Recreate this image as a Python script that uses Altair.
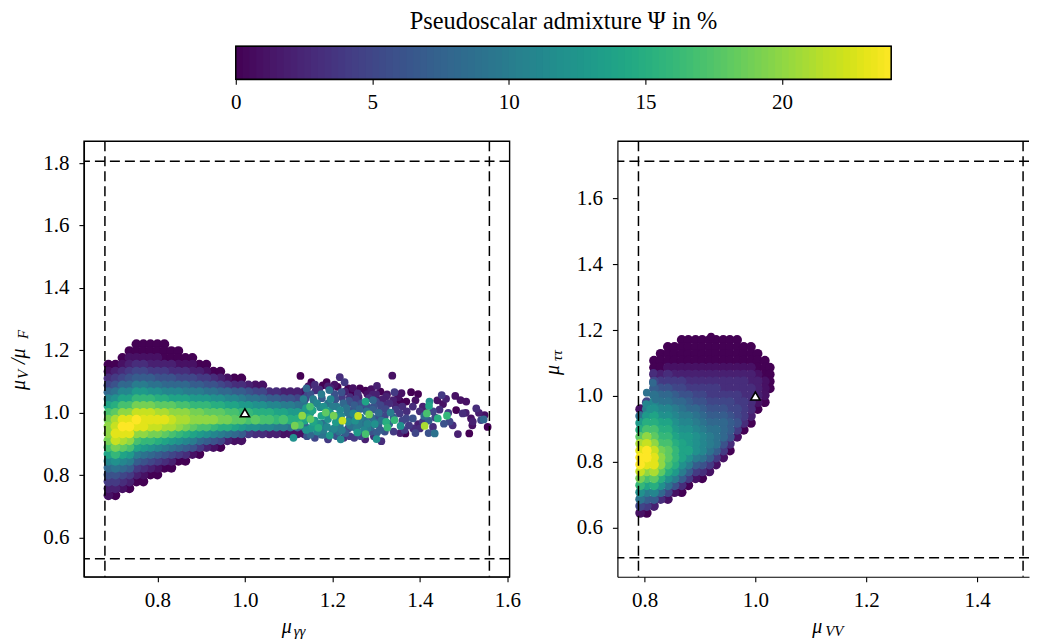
import altair as alt
import numpy as np
import pandas as pd

FONT = "Liberation Serif"

# ---- left panel dense cloud: columns of psi values
L_rows = [1.22,1.198,1.176,1.154,1.132,1.11,1.088,1.066,1.044,1.022,1.0,0.978,0.956,0.934,0.912,0.89,0.868,0.846,0.824,0.802,0.78,0.758,0.736]
L_col_x = [0.688,0.704,0.72,0.736,0.752,0.768,0.784,0.80,0.816,0.832,0.848,0.864,0.88,0.896,0.912,0.928,0.944,0.96,0.976,0.992,1.008,1.024,1.04,1.056,1.072,1.088,1.104,1.12,1.136]
L_col_start = [3,3,2,1,0,0,0,0,0,1,1,2,2,3,3,4,4,5,5,5,6,6,6,7,7,7,7,7,7]
L_col_psi = [
 [0,1,3,5,8,11,14,17,19,20,20,19,17,14,11,8,6,4,2,1],
 [0,2,4,6,9,12,15,18,21,22,23,22,19,16,12,9,6,4,2,0],
 [0,1,3,5,8,11,14,17,20,23,24,23,21,18,14,11,8,5,3,1],
 [0,1,2,4,6,8,11,14,17,20,23,24,23,20,17,13,10,7,4,2,0],
 [0,0,1,3,5,7,10,13,16,19,22,24,23,20,17,14,10,7,4,2,0],
 [0,0,1,3,5,7,10,13,16,19,22,23,23,20,16,13,9,6,3,1,0],
 [0,0,1,2,4,7,9,12,16,19,22,23,22,19,16,12,8,5,2,0],
 [0,0,1,2,4,6,9,12,15,18,21,23,22,19,15,11,7,4,1,0],
 [0,0,0,2,4,6,8,11,15,18,21,23,21,18,14,10,6,3,0],
 [0,0,2,3,6,8,11,14,18,20,22,21,17,13,9,5,2,0],
 [0,0,1,3,5,8,11,14,17,20,21,20,16,12,8,4,0],
 [0,1,3,5,8,10,14,17,20,21,19,15,11,7,3,0],
 [0,1,2,5,7,10,13,16,19,20,18,14,10,6,1],
 [0,2,4,7,10,13,16,19,20,17,13,8,4,0],
 [0,1,4,6,9,13,16,18,20,17,12,7,2],
 [0,3,6,9,12,15,18,20,16,11,6,1],
 [0,2,5,8,12,15,18,19,15,10,5,0],
 [1,4,8,11,14,17,19,15,9,2],
 [0,3,7,11,14,17,18,14,8,1],
 [0,3,7,10,13,16,18,13,7,1],
 [2,6,9,13,16,17,12,4],
 [1,5,9,12,15,18,12,3],
 [1,5,8,12,15,17,11,3],
 [3,7,11,15,17,11,2],
 [3,7,11,14,16,10,2],
 [2,6,10,14,17,10,1],
 [2,6,10,13,15,9,1],
 [2,5,9,13,15,8,1],
 [1,5,9,12,14,8,1],
]

# ---- left panel loose points, sparse tail
S_x = [1.337,1.217,1.127,1.228,1.152,1.187,1.289,1.302,1.263,1.236,1.245,1.342,1.358,1.380,1.396,1.450,1.481,1.493,1.506,1.422,1.453,1.276,1.293,1.221,1.141,1.193,1.175,1.196,1.156,1.134,1.240,1.323,1.354,1.369,1.384,1.407,1.421,1.416,1.441,1.462,1.411,1.434,1.487,1.513,1.367,1.302,1.301,1.312,1.219,1.194,1.111,1.276,1.257,1.326,1.323,1.342,1.356,1.384,1.369,1.354,1.333,1.308,1.284,1.259,1.223,1.203,1.185,1.149,1.131,1.150,1.114,1.126,1.168,1.156,1.179,1.217,1.236,1.270,1.297,1.240,1.247,1.270,1.323,1.308,1.339,1.407,1.396,1.468,1.498,1.517,1.529,1.548,1.555,1.546,1.540,1.521,1.483,1.430,
       1.15,1.165,1.18,1.195,1.21,1.225,1.21,1.235,1.25,1.265,1.28,1.295,1.31,1.33,1.345,1.36,1.15,1.165,1.18,1.2,1.215,1.23,1.245,1.26,1.275,1.29,1.305,1.32,1.34,1.36,1.375,1.385,1.40,1.42,1.435,1.455,1.41,1.43,1.445,1.40,1.15,1.17,1.19,1.205,1.24,1.26,1.28,1.30,1.16,1.205,1.18,1.205,1.15,1.24,1.265,1.29,1.31,1.34,1.355,1.28,
       1.145,1.162,1.178,1.196,1.212,1.229,1.247,1.258,1.276,1.292,1.31,1.325,1.143,1.158,1.176,1.19,1.207,1.222,1.238,1.254,1.268,1.284,1.3,1.316,
       1.14,1.155,1.172,1.188,1.2,1.218,1.232,1.248,1.262,1.278,1.292,1.306,1.322,1.145,1.16,1.175,1.19,1.208,1.22,1.236,1.252,1.265,1.28,1.295,1.312,1.33,
       1.14,1.155,1.17,1.188,1.204,1.222,1.24,1.255,1.272,1.288,1.305,1.32,1.142,1.16,1.175,1.19,1.21,1.226,1.25,1.275,1.295,
       1.35,1.37,1.39,1.415,1.44,1.465,1.475,1.505,1.52,1.535,1.365,1.39,1.42,1.345,1.46]
S_y = [1.119,1.114,1.118,1.098,1.098,1.098,1.076,1.086,1.078,1.078,1.064,1.066,1.063,1.066,1.060,1.057,1.054,1.041,1.036,1.036,1.028,1.036,1.041,1.066,1.078,1.073,1.060,1.044,1.044,1.044,1.032,1.025,1.039,1.036,1.020,1.020,1.022,0.998,0.982,0.991,0.958,0.934,0.932,0.934,0.934,0.937,0.916,0.909,0.915,0.927,0.920,0.932,0.937,0.953,0.971,0.977,0.958,0.982,0.982,0.998,1.001,1.004,0.995,0.990,0.975,0.991,1.001,1.020,0.991,0.980,0.959,0.961,0.952,0.971,0.966,0.961,0.950,0.961,0.964,0.982,1.009,1.014,1.052,1.041,1.041,0.972,0.964,0.972,0.998,0.982,1.014,0.993,0.955,0.979,0.977,0.972,1.009,0.955,
       1.00,1.03,1.02,1.0,1.02,1.03,0.99,1.0,1.025,1.03,1.02,1.02,1.025,1.03,1.02,1.02,0.95,0.94,0.945,0.945,0.94,0.935,0.955,0.965,0.975,0.985,0.985,0.99,0.985,0.975,0.96,0.95,0.95,0.975,0.985,0.965,0.99,1.005,1.01,1.005,1.06,1.075,1.085,1.06,1.05,1.05,1.06,1.06,1.09,1.09,0.93,0.93,0.93,0.925,0.925,0.94,0.945,0.94,0.935,0.95,
       1.085,1.072,1.088,1.079,1.083,1.068,1.079,1.062,1.071,1.058,1.068,1.059,1.057,1.035,1.047,1.03,1.043,1.05,1.038,1.044,1.03,1.047,1.036,1.044,
       1.015,1.008,1.018,1.006,1.021,1.008,1.015,0.998,1.012,1.005,1.01,1.0,1.012,0.985,0.975,0.99,0.98,0.97,0.99,0.972,0.975,0.985,0.965,0.97,0.975,0.965,
       0.945,0.955,0.965,0.955,0.95,0.945,0.96,0.95,0.945,0.955,0.96,0.94,0.925,0.92,0.93,0.915,0.925,0.92,0.92,0.915,0.925,
       1.05,1.005,1.04,1.0,1.04,1.0,0.96,1.0,0.96,1.0,0.945,0.935,0.935,1.01,1.045]
S_p = [1,3,0,4,0,0,1,2,0,0,0,4,1,0,0,4,1,1,1,12,1,14,8,6,8,9,10,11,10,10,5,3,0,0,3,2,14,17,15,16,21,9,2,0,0,7,12,3,11,13,12,17,13,16,15,16,12,6,5,4,10,5,19,22,22,19,18,17,20,18,19,17,15,14,9,10,5,9,12,8,6,4,2,1,2,4,2,5,3,1,3,1,0,8,5,2,0,3,
       13,11,12,12,10,8,12,9,7,5,6,6,5,3,2,3,12,11,10,10,9,7,8,10,9,8,6,5,7,5,4,3,3,7,5,6,8,5,3,3,6,3,2,6,3,2,1,2,3,1,9,6,8,4,5,6,7,4,2,10,
       1,3,0,2,0,2,1,3,0,2,0,1,5,8,7,9,6,4,6,4,6,3,5,2,
       13,14,11,13,10,11,9,11,8,9,7,8,5,15,13,14,12,13,11,11,12,10,11,9,9,8,
       12,13,12,11,11,10,9,10,11,8,7,6,6,5,8,4,6,3,4,2,3,
       1,3,1,2,1,4,3,2,1,2,4,5,6,4,2]

# ---- right panel dense cloud
R_rows = [1.17,1.149,1.128,1.107,1.086,1.065,1.044,1.023,1.002,0.981,0.96,0.939,0.918,0.897,0.876,0.855,0.834,0.813,0.792,0.771,0.75,0.729,0.708,0.687,0.666,0.645]
R_col_x = [0.792,0.804,0.817,0.829,0.842,0.854,0.867,0.879,0.892,0.904,0.917,0.929,0.942,0.954,0.967,0.979,0.992,1.004,1.017,1.026]
R_col_start = [10,9,3,2,1,1,0,0,0,0,0,0,0,0,0,1,1,2,3,4]
R_col_psi = [
 [1,9,13,15,18,21,23,24,24,22,19,16,12,9,5,1],
 [5,10,13,15,17,20,22,24,24,23,20,17,14,10,7,4,0],
 [0,0,2,5,7,9,11,12,14,15,17,18,20,22,23,23,21,18,15,11,7,2],
 [0,0,0,2,4,6,8,9,11,12,14,15,16,17,19,20,20,18,15,12,8,3],
 [0,0,0,1,3,4,6,8,9,11,12,14,15,16,17,18,18,17,15,12,9,5,1],
 [0,0,0,1,2,4,5,7,8,10,11,12,13,14,15,16,16,15,13,10,6,1],
 [0,0,0,0,1,2,4,5,6,8,9,10,11,12,13,14,14,14,12,10,7,3,0],
 [0,0,0,0,1,2,3,4,6,7,8,10,11,12,13,13,14,12,10,7,4,0],
 [0,0,0,0,1,2,3,4,5,6,8,9,10,11,12,12,12,10,7,4,1],
 [0,0,0,0,1,2,3,4,5,6,7,8,9,10,11,11,11,9,6,3,0],
 [0,0,0,0,1,2,3,4,4,5,6,7,8,9,10,10,9,7,4,1],
 [0,0,0,0,1,2,3,4,4,5,6,7,8,9,9,9,7,4,1],
 [0,0,0,0,1,2,3,3,4,5,6,7,8,8,8,6,4,1],
 [0,0,0,0,1,2,3,3,4,5,5,6,7,7,6,3,0],
 [0,0,0,0,1,2,3,3,4,4,5,5,6,4,1],
 [0,0,0,1,2,3,3,3,4,4,4,3,0],
 [0,0,0,1,2,2,3,3,3,3,2,0],
 [0,0,0,1,2,2,2,1,0],
 [0,0,0,1,1,1,0],
 [0,0,0,0],
]
T_x = [0.92,0.815,0.804,0.803,0.81,0.82,0.816]
T_y = [1.18,1.04,1.01,0.975,0.96,0.99,1.07]
T_p = [0,8,9,11,12,9,3]

# ---- reference limits, ticks, text
L_vlines = [0.68, 1.559]
L_hlines = [1.806, 0.533]
R_vlines = [0.789, 1.483]
R_hlines = [1.712, 0.509]
L_xlim = [0.632, 1.605]
L_ylim = [0.475, 1.870]
R_xlim = [0.751, 1.4937]
R_ylim = [0.4515, 1.773]
L_xticks = [0.8, 1.0, 1.2, 1.4, 1.6]
L_yticks = [0.6, 0.8, 1.0, 1.2, 1.4, 1.6, 1.8]
R_xticks = [0.8, 1.0, 1.2, 1.4]
R_yticks = [0.6, 0.8, 1.0, 1.2, 1.4, 1.6]
BAR_TICKS = [0, 5, 10, 15, 20]
BAR_TITLE = "Pseudoscalar admixture Ψ in %"


def grid_frame(rows, col_x, col_start, col_psi):
    recs = []
    for x, s, ps in zip(col_x, col_start, col_psi):
        for i, p in enumerate(ps):
            recs.append({"x": x, "y": rows[s + i], "psi": p})
    return pd.DataFrame(recs).sort_values("psi", kind="stable")


color = alt.Color("psi:Q", legend=None,
                  scale=alt.Scale(scheme="viridis", domain=[0, 24]))


def label(parts, horizontal=True):
    layers = []
    for text, size, px, py in parts:
        t = pd.DataFrame({"t": [text]})
        layers.append(
            alt.Chart(t).mark_text(font=FONT, fontSize=size, fontStyle="italic",
                                   align="left", baseline="alphabetic", color="black",
                                   angle=0 if horizontal else 270)
            .encode(x=alt.value(px), y=alt.value(py), text="t:N")
        )
    return layers


def panel(core, loose, vlines, hlines, xlim, ylim, xticks, yticks, w, h, labels, open_right=False):
    xs = alt.X("x:Q", scale=alt.Scale(domain=xlim, nice=False, zero=False),
               axis=alt.Axis(values=xticks, title=None, format=".1f", labelPadding=8))
    ys = alt.Y("y:Q", scale=alt.Scale(domain=ylim, nice=False, zero=False),
               axis=alt.Axis(values=yticks, title=None, format=".1f", labelPadding=10))
    a = alt.Chart(core).mark_circle(size=95, opacity=1).encode(x=xs, y=ys, color=color)
    b = alt.Chart(loose).mark_circle(size=60, opacity=1).encode(x=xs, y=ys, color=color)
    v = alt.Chart(pd.DataFrame({"x": vlines})).mark_rule(color="black", strokeDash=[10, 5], strokeWidth=1.5).encode(x=xs)
    hh = alt.Chart(pd.DataFrame({"y": hlines})).mark_rule(color="black", strokeDash=[10, 5], strokeWidth=1.5).encode(y=ys)
    sm = alt.Chart(pd.DataFrame({"x": [1.0], "y": [1.0]})).mark_point(
        shape="triangle-up", filled=True, fill="white", stroke="black", strokeWidth=1.6,
        size=85, opacity=1).encode(x=xs, y=ys)
    layers = [a, b, v, hh, sm]
    props = dict(width=w, height=h)
    if open_right:
        # the reference's right spine falls outside the picture
        top_line = alt.Chart(pd.DataFrame({"y": [ylim[1]]})).mark_rule(color="black", strokeWidth=1.4).encode(y=ys)
        layers.append(top_line)
        props["view"] = alt.ViewConfig(stroke="transparent")
    return alt.layer(*layers, *labels).properties(**props)


left = panel(grid_frame(L_rows, L_col_x, L_col_start, L_col_psi),
             pd.DataFrame({"x": S_x, "y": S_y, "psi": S_p}).sort_values("psi", kind="stable"),
             L_vlines, L_hlines, L_xlim, L_ylim, L_xticks, L_yticks, 426, 436,
             label([("μ", 20, 198, 492), ("γγ", 15, 210, 495)]) +
             label([("μ", 20, -59, 249), ("V", 15, -56, 238), ("/μ", 20, -59, 223), ("F", 15, -56, 198)], False))

right = panel(grid_frame(R_rows, R_col_x, R_col_start, R_col_psi),
              pd.DataFrame({"x": T_x, "y": T_y, "psi": T_p}),
              R_vlines, R_hlines, R_xlim, R_ylim, R_xticks, R_yticks, 412, 436,
              label([("μ", 20, 195, 492), ("VV", 15, 208, 495)]) +
              label([("μ", 20, -58, 234), ("ττ", 15, -55, 220)], False),
              open_right=True)

# colour bar
levels = np.arange(0, 24, 0.25)
bar_df = pd.DataFrame({"lo": levels, "hi": levels + 0.4, "psi": levels + 0.125})
bar_x = alt.X("lo:Q", scale=alt.Scale(domain=[0, 24], nice=False, zero=False),
              axis=alt.Axis(values=BAR_TICKS, title=None, format="d", labelPadding=7))
bar_fill = alt.Chart(bar_df).mark_rect(clip=True).encode(x=bar_x, x2="hi:Q", color=color)
bar_edge = alt.Chart(pd.DataFrame({"lo": [0], "hi": [24]})).mark_rect(
    fillOpacity=0, stroke="black", strokeWidth=1.4).encode(x=bar_x, x2="hi:Q")
bar = alt.layer(bar_fill, bar_edge).properties(
    width=656, height=33,
    title=alt.TitleParams(BAR_TITLE, font=FONT, fontSize=24.4, fontWeight="normal",
                          anchor="middle", offset=11, color="black"))

spacer = alt.Chart(pd.DataFrame({"a": [0]})).mark_point(opacity=0).encode(
    x=alt.value(0), y=alt.value(0)
).properties(width=145, height=33, view=alt.ViewConfig(stroke="transparent"))

top = alt.hconcat(spacer, bar, spacing=0)
bottom = alt.hconcat(left, right, spacing=21)

chart = alt.vconcat(top, bottom, spacing=26).properties(
    padding={"left": 0, "top": 0, "right": 0, "bottom": 0}
).configure_view(stroke="black", strokeWidth=1.4).configure_axis(
    grid=False, domainColor="black", domainWidth=1.2, tickColor="black", tickSize=5,
    tickWidth=1.1, labelColor="black", labelFont=FONT, labelFontSize=21,
    labelFlush=False, labelOverlap=False
).configure_concat(spacing=0)

chart.save("out.html", embed_options={"renderer": "svg", "actions": False})
